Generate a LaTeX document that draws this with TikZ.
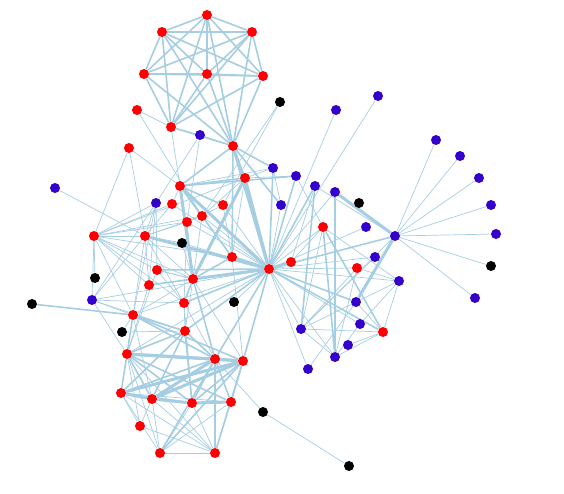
\documentclass[tikz,border=0pt]{standalone}
\usepackage{xcolor}
\usetikzlibrary{backgrounds}
\definecolor{edgeblue}{RGB}{166,206,227}
\definecolor{nodeblue}{RGB}{51,0,204}

\begin{document}
\begin{tikzpicture}[x=1pt, y=-1pt,
    dot/.style={circle, minimum size=10pt, inner sep=0pt},
    rn/.style={dot, fill=red},
    bn/.style={dot, fill=nodeblue},
    kn/.style={dot, fill=black},
    lo/.style={draw=edgeblue, line width=0.7pt},
    md/.style={draw=edgeblue, line width=1.6pt},
    hi/.style={draw=edgeblue, line width=3pt}]
    \useasboundingbox (0,0) rectangle (564,493);
    % top group
    \node[rn] (t1) at (207,15) {};
    \node[rn] (t2) at (162,32) {};
    \node[rn] (t3) at (252,32) {};
    \node[rn] (t4) at (144,74) {};
    \node[rn] (t5) at (207,74) {};
    \node[rn] (t6) at (263,76) {};
    \node[rn] (t7) at (137,110) {};
    \node[rn] (t8) at (171,127) {};
    \node[rn] (t9) at (233,146) {};
    \node[bn] (u1) at (200,135) {};
    \node[kn] (k1) at (280,102) {};
    % middle
    \node[rn] (m1) at (129,148) {};
    \node[bn] (u2) at (55,188) {};
    \node[rn] (m2) at (180,186) {};
    \node[rn] (m3) at (245,178) {};
    \node[bn] (u3) at (273,168) {};
    \node[bn] (u4) at (296,176) {};
    \node[bn] (u5) at (156,203) {};
    \node[rn] (m4) at (172,204) {};
    \node[rn] (m5) at (223,205) {};
    \node[rn] (m6) at (202,216) {};
    \node[rn] (m7) at (187,222) {};
    \node[bn] (u6) at (281,205) {};
    \node[rn] (m8) at (94,236) {};
    \node[rn] (m9) at (145,236) {};
    \node[kn] (k2) at (182,243) {};
    \node[rn] (m10) at (232,257) {};
    \node[rn] (h) at (269,269) {};
    \node[rn] (m11) at (291,262) {};
    \node[rn] (m12) at (157,270) {};
    \node[kn] (k3) at (95,278) {};
    \node[rn] (m13) at (193,279) {};
    \node[rn] (m14) at (149,285) {};
    \node[bn] (u7) at (92,300) {};
    \node[kn] (k4) at (32,304) {};
    \node[rn] (m15) at (184,303) {};
    \node[kn] (k5) at (234,302) {};
    \node[rn] (m16) at (133,315) {};
    \node[kn] (k6) at (122,332) {};
    \node[rn] (m17) at (185,331) {};
    % bottom group
    \node[rn] (l1) at (127,354) {};
    \node[rn] (l2) at (215,359) {};
    \node[rn] (l3) at (243,361) {};
    \node[rn] (l4) at (121,393) {};
    \node[rn] (l5) at (152,399) {};
    \node[rn] (l6) at (192,403) {};
    \node[rn] (l7) at (231,402) {};
    \node[rn] (l8) at (140,426) {};
    \node[rn] (l9) at (160,453) {};
    \node[rn] (l10) at (215,453) {};
    \node[kn] (k7) at (263,412) {};
    \node[kn] (k8) at (349,466) {};
    % right group
    \node[bn] (v1) at (336,110) {};
    \node[bn] (v2) at (378,96) {};
    \node[bn] (v3) at (315,186) {};
    \node[bn] (v4) at (335,192) {};
    \node[kn] (k9) at (359,203) {};
    \node[rn] (r1) at (323,227) {};
    \node[bn] (v5) at (366,227) {};
    \node[bn] (bh) at (395,236) {};
    \node[bn] (v6) at (375,257) {};
    \node[rn] (r2) at (357,268) {};
    \node[bn] (v7) at (399,281) {};
    \node[bn] (v8) at (356,302) {};
    \node[bn] (v9) at (301,329) {};
    \node[bn] (v10) at (360,324) {};
    \node[rn] (r3) at (383,332) {};
    \node[bn] (v11) at (348,345) {};
    \node[bn] (v12) at (335,357) {};
    \node[bn] (v13) at (308,369) {};
    \node[bn] (w1) at (436,140) {};
    \node[bn] (w2) at (460,156) {};
    \node[bn] (w3) at (479,178) {};
    \node[bn] (w4) at (491,205) {};
    \node[bn] (w5) at (496,234) {};
    \node[kn] (k10) at (491,266) {};
    \node[bn] (w6) at (475,298) {};
    \begin{scope}[on background layer]
        % top group
        \draw[md] (t1) edge (t2) edge (t3) edge (t4) edge (t5) edge (t6) edge (t8) edge (t9);
        \draw[md] (t2) edge (t3) edge (t4) edge (t5) edge (t6) edge (t8) edge (t9);
        \draw[md] (t3) edge (t4) edge (t5) edge (t6) edge (t8) edge (t9);
        \draw[md] (t4) edge (t5) edge (t6) edge (t8) edge (t9);
        \draw[md] (t5) edge (t6) edge (t8) edge (t9);
        \draw[md] (t6) edge (t8) edge (t9) (t8) edge (t9);
        \draw[lo] (t7) edge (t8) edge (m6) (t8) edge (u1) edge (m2) (u1) edge (t9) edge (m7) edge (u5);
        \draw[lo] (k1) edge (m5) edge (m6) (m1) edge (m2) edge (m8) edge (m9) (u2) edge (m9);
        \draw[md] (t9) edge (m2) edge (m3) edge (u6) edge (m10) edge (u3);
        \draw[hi] (t9) edge (h);
        % middle
        \draw[hi] (m2) edge (h) edge (m13) (m3) edge (h) edge (m13);
        \draw[md] (m2) edge (m3) edge (m5) edge (m6) edge (u4) edge (m10);
        \draw[lo] (m2) edge (m4) edge (u3) (m3) edge (m10) edge (u3) edge (u4) edge (m6) edge (m8);
        \draw[lo] (u5) edge (m8) edge (m9) edge (m12) edge (m14) edge (u7) edge (m16);
        \draw[lo] (m8) edge (m9) edge (m7) edge (m6) edge (m10) edge (m13) edge (m15) edge (k3) edge (u7) edge (m16) edge (m12) edge (m14);
        \draw[hi] (m9) edge (h);
        \draw[lo] (m9) edge (m13) edge (m6) edge (m7) edge (m14) edge (m15) edge (u7) edge (m16) edge (k2);
        \draw[lo] (m4) edge (m9) edge (h) edge (m8) (m5) edge (m6) edge (m10) edge (h) (k2) edge (m13) edge (h);
        \draw[lo] (m6) edge (m7) edge (h) edge (m13) (m7) edge (h) edge (m13) edge (m15);
        \draw[hi] (h) edge (m10) edge (m11) edge (m13);
        \draw[md] (h) edge (m15) edge (m17) edge (l2) edge (l3) edge (u3) edge (u4) edge (v3) edge (bh) edge (v8) edge (r3) edge (m12) edge (m14);
        \draw[lo] (h) edge (k5) edge (u6) edge (v4) edge (r1) edge (v5) edge (v6) edge (r2) edge (v7) edge (v9) edge (v10) edge (v12) edge (v13) edge (u7) edge (v2) edge (v1) edge (l1);
        \draw[md] (k4) edge (m16);
        \draw[lo] (u7) edge (m16) edge (m15) edge (l1) edge (m17) (k6) edge (m16) edge (m17);
        \draw[md] (m16) edge (l1) edge (m17) edge (l2) edge (l3) (m13) edge (m10) edge (m15) edge (l2);
        \draw[lo] (m16) edge (h) edge (m13) edge (l5) (m13) edge (l3) edge (m12) edge (m14) (m10) edge (l3);
        \draw[md] (m17) edge (l1) edge (l2) edge (l4) edge (l5) edge (l6);
        \draw[lo] (m17) edge (m15) edge (m13) (m15) edge (l2) edge (l6) (m12) edge (m13) edge (m15) edge (l1) (m14) edge (m13) edge (l1);
        % bottom group
        \draw[hi] (l1) edge (l2) edge (l3) (l4) edge (l3) edge (l5) (l5) edge (l2) edge (l3) edge (l6) (l6) edge (l7) (l2) edge (l3);
        \draw[md] (l1) edge (l4) edge (l5) edge (l6) edge (l7) (l4) edge (l6) edge (l2) (l2) edge (l6) edge (l7) edge (l9) edge (l10);
        \draw[md] (l3) edge (l7) edge (l6) edge (l9) edge (l10);
        \draw[lo] (l4) edge (l8) edge (l9) edge (l7) edge (l10) (l5) edge (l8) edge (l9) edge (l10) (l8) edge (l10);
        \draw[lo] (l9) edge (l10) (l6) edge (l9) edge (l10) (l7) edge (l10) edge (l9) (l1) edge (l9) edge (l10) edge (l8);
        \draw[lo] (k7) edge (k8) edge (l2);
        % right group
        \draw[lo] (bh) edge (w1) edge (w2) edge (w3) edge (w4) edge (w5) edge (k10) edge (w6) edge (v3) edge (v9);
        \draw[hi] (bh) edge (v4) edge (v8);
        \draw[md] (v4) edge (v12) (v3) edge (v9) (r1) edge (r3) edge (v12);
        \draw[lo] (v3) edge (m11) (u3) edge (u6) (u4) edge (r1) (r1) edge (v9) edge (v7) edge (m11);
        \draw[lo] (v6) edge (v9) (r2) edge (v7) edge (v9) edge (v12) (v7) edge (r3) edge (v9) edge (v10);
        \draw[lo] (v8) edge (r3) edge (v13) (v9) edge (r3) edge (v12) (v10) edge (v12) (v11) edge (r3) (v12) edge (r3);
    \end{scope}
\end{tikzpicture}
\end{document}
